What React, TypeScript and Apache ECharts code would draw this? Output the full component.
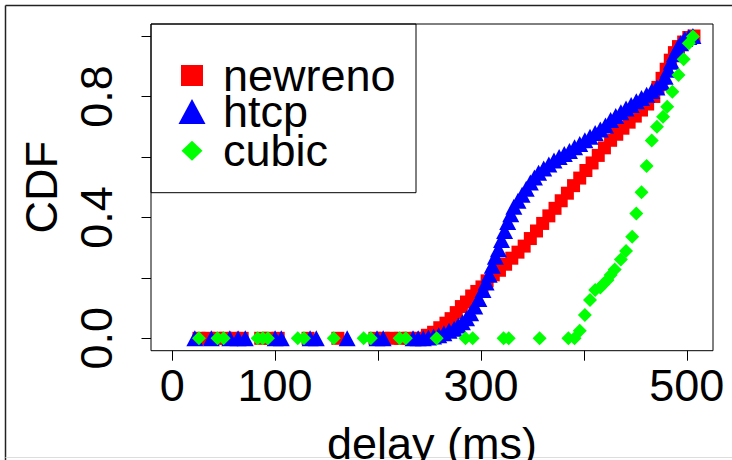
import React, { useEffect, useRef } from "react";
import * as echarts from "echarts";

const FONT = "'Liberation Sans', Arial, Helvetica, sans-serif";

// x ticks / labels
const xTicks = [0, 100, 200, 300, 400, 500];
const xLabels = [0, 100, 300, 500];
const yTicks = [0, 0.2, 0.4, 0.6, 0.8, 1.0];
const yLabels = [0, 0.4, 0.8];

// newreno (red squares)
const newrenoX = [26, 35, 44, 52, 60, 68, 86, 94, 103, 132, 161, 197, 205, 213, 222, 230, 237, 244,
  248, 254, 260, 266, 271, 276, 281, 286, 291, 296, 301, 306, 312, 318, 324, 330, 336, 342, 348, 354,
  360, 366, 372, 378, 384, 390, 396, 402, 408, 414, 420, 426, 432, 438, 444, 450, 456, 462, 468, 472,
  476, 480, 484, 488, 492, 497, 502, 507];
const newrenoY = [0, 0, 0, 0, 0, 0, 0, 0, 0, 0, 0, 0, 0, 0, 0, 0, 0, 0,
  0.01, 0.02, 0.035, 0.05, 0.065, 0.085, 0.105, 0.12, 0.14, 0.155, 0.17, 0.19, 0.21, 0.225, 0.245, 0.265, 0.285, 0.305, 0.33, 0.355,
  0.38, 0.405, 0.43, 0.455, 0.48, 0.505, 0.53, 0.555, 0.58, 0.605, 0.63, 0.655, 0.675, 0.695, 0.715, 0.735, 0.755, 0.775, 0.8, 0.83,
  0.86, 0.89, 0.92, 0.945, 0.965, 0.98, 0.995, 1.0];

// htcp (blue triangles)
const htcpX = [22, 38, 56, 64, 71, 100, 106, 134, 140, 170, 199, 205, 234, 239, 244,
  249, 254, 259, 264, 269, 274, 278, 282, 286, 290, 294, 298, 302, 305, 308, 311, 314, 317, 320, 323,
  326, 329, 332, 336, 340, 344, 348, 352, 356, 361, 366, 371, 376, 381, 386, 391, 396, 401, 406, 411,
  416, 421, 426, 431, 436, 441, 446, 451, 456, 461, 466, 471, 476, 479, 482, 485, 488, 491, 494, 498, 502, 506];
const htcpY = [0, 0, 0, 0, 0, 0, 0, 0, 0, 0, 0, 0, 0, 0, 0,
  0.003, 0.006, 0.01, 0.017, 0.025, 0.032, 0.042, 0.053, 0.066, 0.083, 0.105, 0.13, 0.16, 0.185, 0.21, 0.24, 0.27, 0.295, 0.325, 0.355,
  0.385, 0.41, 0.435, 0.455, 0.475, 0.495, 0.515, 0.532, 0.548, 0.562, 0.575, 0.588, 0.6, 0.61, 0.62, 0.632, 0.643, 0.655, 0.667, 0.679,
  0.691, 0.704, 0.722, 0.735, 0.748, 0.76, 0.772, 0.784, 0.795, 0.806, 0.818, 0.83, 0.845, 0.865, 0.888, 0.915, 0.94, 0.96, 0.976, 0.99, 0.997, 1.0];

// cubic (green diamonds)
const cubicX = [26, 44, 50, 83, 88, 93, 122, 128, 157, 186, 193, 221, 227, 257, 285, 292, 322, 327, 357, 385, 391,
  396, 401, 406, 411, 416, 419, 423, 426, 430, 436, 441, 447, 451, 456, 461, 466, 471, 477, 481, 486, 492, 497, 502, 506];
const cubicY = [0, 0, 0, 0, 0, 0, 0, 0, 0, 0, 0, 0, 0, 0, 0, 0, 0, 0, 0, 0, 0,
  0.025, 0.077, 0.127, 0.16, 0.168, 0.18, 0.193, 0.209, 0.228, 0.261, 0.289, 0.336, 0.413, 0.483, 0.57, 0.654, 0.7, 0.733, 0.766, 0.816, 0.871, 0.923, 0.976, 0.998];

const pairs = (xs: number[], ys: number[]) => xs.map((x, i) => [x, ys[i]]);

export default function App() {
  const ref = useRef<HTMLDivElement>(null);
  useEffect(() => {
    if (!ref.current) return;
    const chart = echarts.init(ref.current, null, { renderer: "svg" });
    const legendText = (pl: number) => ({
      fontSize: 45,
      fontFamily: FONT,
      color: "#000",
      lineHeight: 36,
      padding: [0, 0, 0, pl],
    });
    chart.setOption({
      animation: false,
      backgroundColor: "#fff",
      grid: {
        left: 151,
        top: 24,
        right: 19,
        bottom: 109.3,
        show: true,
        borderColor: "#000",
        borderWidth: 1,
        backgroundColor: "transparent",
        outerBoundsMode: "none",
        containLabel: false,
      },
      xAxis: {
        type: "value",
        min: -20.6,
        max: 525.5,
        axisLine: { show: false, onZero: false },
        splitLine: { show: false },
        axisTick: { show: true, length: 10, lineStyle: { color: "#000" }, customValues: xTicks },
        axisLabel: { customValues: xLabels, fontSize: 45, fontFamily: FONT, color: "#000", margin: 12 },
        name: "delay (ms)",
        nameLocation: "middle",
        nameGap: 70,
        nameTextStyle: { fontSize: 45, fontFamily: FONT, color: "#000" },
      },
      yAxis: {
        type: "value",
        min: -0.041,
        max: 1.0397,
        axisLine: { show: false, onZero: false },
        splitLine: { show: false },
        axisTick: { show: true, length: 9.5, lineStyle: { color: "#000" }, customValues: yTicks },
        axisLabel: {
          customValues: yLabels,
          rotate: 90,
          fontSize: 45,
          fontFamily: FONT,
          color: "#000",
          margin: 32,
          formatter: (v: number) => v.toFixed(1),
        },
        name: "CDF",
        nameLocation: "middle",
        nameRotate: 90,
        nameGap: 87,
        nameTextStyle: { fontSize: 45, fontFamily: FONT, color: "#000" },
      },
      legend: [
        {
          data: [{ name: "newreno", icon: "rect" }],
          orient: "vertical",
          left: 181,
          top: 53,
          padding: 0,
          itemWidth: 22,
          itemHeight: 21,
          textStyle: legendText(15),
        },
        {
          data: [{ name: "htcp", icon: "triangle" }],
          orient: "vertical",
          left: 178.5,
          top: 89,
          padding: 0,
          itemWidth: 27,
          itemHeight: 25,
          textStyle: legendText(12.5),
        },
        {
          data: [{ name: "cubic", icon: "diamond" }],
          orient: "vertical",
          left: 181.5,
          top: 128.3,
          padding: 0,
          itemWidth: 21,
          itemHeight: 20,
          textStyle: legendText(15.5),
        },
      ],
      graphic: [
        {
          type: "rect",
          shape: { x: 151, y: 24, width: 265, height: 168.7 },
          style: { fill: "none", stroke: "#000", lineWidth: 1 },
          silent: true,
        },
        {
          type: "line",
          shape: { x1: 5.5, y1: 5.5, x2: 732, y2: 5.5 },
          style: { stroke: "#222", lineWidth: 1.5 },
          silent: true,
        },
        {
          type: "line",
          shape: { x1: 5.5, y1: 5.5, x2: 5.5, y2: 460 },
          style: { stroke: "#222", lineWidth: 1.5 },
          silent: true,
        },
        {
          type: "line",
          shape: { x1: 5.5, y1: 457.5, x2: 732, y2: 457.5 },
          style: { stroke: "#ddd", lineWidth: 1 },
          silent: true,
        },
      ],
      series: [
        {
          name: "newreno",
          type: "scatter",
          symbol: "rect",
          symbolSize: 13,
          itemStyle: { color: "#ff0000", opacity: 1 },
          data: pairs(newrenoX, newrenoY),
        },
        {
          name: "htcp",
          type: "scatter",
          symbol: "triangle",
          symbolSize: [17, 16],
          itemStyle: { color: "#0000ff", opacity: 1 },
          data: pairs(htcpX, htcpY),
        },
        {
          name: "cubic",
          type: "scatter",
          symbol: "diamond",
          symbolSize: 14,
          itemStyle: { color: "#00ff00", opacity: 1 },
          data: pairs(cubicX, cubicY),
        },
      ],
    });
    return () => chart.dispose();
  }, []);
  return (
    <div
      ref={ref}
      style={{ position: "absolute", left: 0, top: 0, width: 732, height: 460 }}
    />
  );
}
